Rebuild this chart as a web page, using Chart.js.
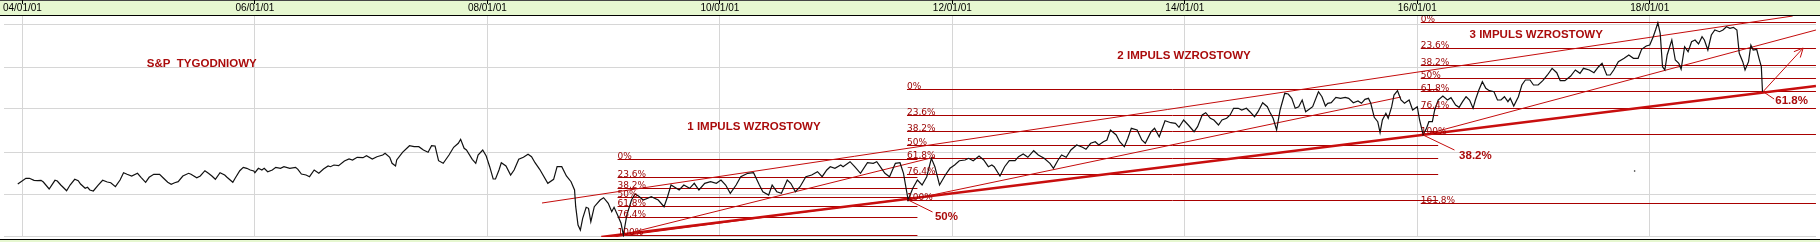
<!DOCTYPE html>
<html>
<head>
<meta charset="utf-8">
<style>
  html, body { margin: 0; padding: 0; background: #fff; }
  #wrap { width: 1820px; height: 242px; }
</style>
<script src="https://cdn.jsdelivr.net/npm/chart.js@4.4.1/dist/chart.umd.min.js"></script>
</head>
<body>
<div id="wrap"><canvas id="spChart" width="1820" height="242"></canvas></div>
<script>
// x axis: decimal years, y axis: index points (weekly S&P close)
const tickYears = [2004, 2006, 2008, 2010, 2012, 2014, 2016, 2018];
const tickLabels = ['04/01/01', '06/01/01', '08/01/01', '10/01/01', '12/01/01', '14/01/01', '16/01/01', '18/01/01'];
const gridValues = [640, 1060, 1480, 1910, 2330, 2750];

const weeks = [
  2003.96, 2004.03, 2004.06, 2004.10, 2004.13, 2004.16, 2004.18, 2004.23, 2004.28, 2004.30,
  2004.33, 2004.35, 2004.38, 2004.41, 2004.45, 2004.48, 2004.50, 2004.54, 2004.56, 2004.58,
  2004.61, 2004.65, 2004.69, 2004.73, 2004.76, 2004.80, 2004.84, 2004.87, 2004.90, 2004.94,
  2004.99, 2005.02, 2005.06, 2005.09, 2005.13, 2005.18, 2005.21, 2005.25, 2005.28, 2005.31,
  2005.34, 2005.38, 2005.43, 2005.45, 2005.50, 2005.53, 2005.57, 2005.60, 2005.63, 2005.66,
  2005.70, 2005.74, 2005.76, 2005.81, 2005.83, 2005.87, 2005.90, 2005.93, 2005.96, 2005.99,
  2006.00, 2006.03, 2006.06, 2006.08, 2006.11, 2006.15, 2006.18, 2006.22, 2006.25, 2006.30,
  2006.35, 2006.37, 2006.40, 2006.44, 2006.47, 2006.51, 2006.55, 2006.59, 2006.63, 2006.65,
  2006.68, 2006.72, 2006.77, 2006.81, 2006.84, 2006.88, 2006.93, 2006.96, 2007.01, 2007.05,
  2007.10, 2007.12, 2007.16, 2007.18, 2007.21, 2007.22, 2007.27, 2007.33, 2007.37, 2007.41,
  2007.45, 2007.49, 2007.52, 2007.55, 2007.58, 2007.62, 2007.67, 2007.71, 2007.75, 2007.77,
  2007.80, 2007.82, 2007.87, 2007.90, 2007.92, 2007.96, 2007.99, 2008.02, 2008.05, 2008.07,
  2008.10, 2008.12, 2008.16, 2008.20, 2008.23, 2008.27, 2008.31, 2008.35, 2008.38, 2008.41,
  2008.45, 2008.52, 2008.57, 2008.60, 2008.64, 2008.68, 2008.72, 2008.75, 2008.76, 2008.78,
  2008.80, 2008.82, 2008.85, 2008.87, 2008.89, 2008.92, 2008.97, 2009.00, 2009.04, 2009.07,
  2009.09, 2009.12, 2009.15, 2009.17, 2009.20, 2009.24, 2009.27, 2009.30, 2009.34, 2009.38,
  2009.41, 2009.47, 2009.52, 2009.55, 2009.58, 2009.65, 2009.69, 2009.74, 2009.78, 2009.82,
  2009.87, 2009.92, 2009.97, 2010.01, 2010.05, 2010.09, 2010.14, 2010.18, 2010.24, 2010.29,
  2010.34, 2010.37, 2010.42, 2010.45, 2010.49, 2010.53, 2010.58, 2010.61, 2010.65, 2010.69,
  2010.74, 2010.79, 2010.84, 2010.88, 2010.92, 2010.95, 2010.99, 2011.04, 2011.06, 2011.12,
  2011.16, 2011.21, 2011.27, 2011.32, 2011.35, 2011.38, 2011.42, 2011.46, 2011.51, 2011.55,
  2011.58, 2011.62, 2011.66, 2011.70, 2011.74, 2011.78, 2011.82, 2011.85, 2011.89, 2011.94,
  2011.98, 2012.02, 2012.06, 2012.11, 2012.14, 2012.18, 2012.23, 2012.27, 2012.31, 2012.34,
  2012.36, 2012.41, 2012.45, 2012.49, 2012.54, 2012.57, 2012.61, 2012.65, 2012.70, 2012.74,
  2012.79, 2012.84, 2012.87, 2012.91, 2012.94, 2012.98, 2013.02, 2013.07, 2013.12, 2013.15,
  2013.19, 2013.23, 2013.26, 2013.30, 2013.33, 2013.36, 2013.41, 2013.44, 2013.48, 2013.51,
  2013.54, 2013.59, 2013.63, 2013.66, 2013.71, 2013.74, 2013.78, 2013.83, 2013.88, 2013.92,
  2013.95, 2013.99, 2014.03, 2014.08, 2014.11, 2014.15, 2014.18, 2014.22, 2014.25, 2014.29,
  2014.32, 2014.36, 2014.39, 2014.42, 2014.46, 2014.49, 2014.53, 2014.56, 2014.60, 2014.63,
  2014.67, 2014.71, 2014.73, 2014.76, 2014.79, 2014.82, 2014.86, 2014.89, 2014.92, 2014.95,
  2014.98, 2015.01, 2015.04, 2015.07, 2015.10, 2015.15, 2015.18, 2015.21, 2015.23, 2015.26,
  2015.30, 2015.34, 2015.38, 2015.41, 2015.45, 2015.49, 2015.52, 2015.55, 2015.58, 2015.60,
  2015.63, 2015.66, 2015.68, 2015.70, 2015.73, 2015.75, 2015.78, 2015.80, 2015.83, 2015.86,
  2015.89, 2015.93, 2015.96, 2016.00, 2016.02, 2016.05, 2016.08, 2016.10, 2016.13, 2016.15,
  2016.18, 2016.22, 2016.26, 2016.29, 2016.33, 2016.36, 2016.39, 2016.42, 2016.45, 2016.48,
  2016.50, 2016.53, 2016.56, 2016.59, 2016.62, 2016.66, 2016.69, 2016.72, 2016.75, 2016.78,
  2016.80, 2016.83, 2016.87, 2016.90, 2016.93, 2016.97, 2017.00, 2017.04, 2017.08, 2017.12,
  2017.16, 2017.20, 2017.23, 2017.27, 2017.32, 2017.36, 2017.40, 2017.43, 2017.48, 2017.52,
  2017.56, 2017.59, 2017.63, 2017.66, 2017.69, 2017.73, 2017.78, 2017.82, 2017.86, 2017.90,
  2017.93, 2017.97, 2018.00, 2018.03, 2018.05, 2018.07, 2018.09, 2018.11, 2018.13, 2018.15,
  2018.19, 2018.22, 2018.25, 2018.27, 2018.30, 2018.33, 2018.36, 2018.39, 2018.42, 2018.45,
  2018.47, 2018.50, 2018.53, 2018.56, 2018.60, 2018.63, 2018.66, 2018.69, 2018.72, 2018.75,
  2018.77, 2018.80, 2018.82, 2018.85, 2018.87, 2018.89, 2018.92, 2018.94, 2018.96, 2018.97
];

const spx = [
  1160, 1217, 1217, 1197, 1193, 1197, 1180, 1110, 1197, 1190,
  1150, 1127, 1093, 1150, 1207, 1193, 1160, 1117, 1127, 1100,
  1090, 1147, 1197, 1180, 1173, 1133, 1200, 1273, 1257, 1240,
  1267, 1227, 1177, 1227, 1257, 1257, 1223, 1177, 1157, 1173,
  1183, 1240, 1267, 1257, 1223, 1240, 1293, 1267, 1240, 1207,
  1273, 1250, 1227, 1177, 1217, 1293, 1327, 1317, 1300, 1290,
  1273, 1317, 1300, 1317, 1283, 1300, 1327, 1317, 1333, 1317,
  1327, 1307, 1260, 1250, 1233, 1300, 1267, 1310, 1340, 1333,
  1350, 1343, 1390, 1410, 1400, 1427, 1423, 1443, 1410, 1433,
  1450, 1467, 1427, 1367, 1340, 1400, 1477, 1543, 1533, 1533,
  1500, 1477, 1543, 1540, 1393, 1367, 1450, 1527, 1567, 1607,
  1517, 1500, 1407, 1367, 1450, 1500, 1440, 1333, 1210, 1210,
  1300, 1373, 1340, 1250, 1300, 1407, 1427, 1457, 1433, 1373,
  1307, 1167, 1207, 1333, 1333, 1240, 1183, 1100, 933, 750,
  700, 817, 927, 917, 783, 933, 1000, 1023, 967, 883,
  927, 850, 767, 650, 850, 1000, 1060, 1040, 1000, 1017,
  1033, 1000, 933, 1033, 1150, 1100, 1150, 1117, 1167, 1100,
  1167, 1183, 1167, 1200, 1150, 1067, 1150, 1233, 1267, 1273,
  1150, 1083, 1050, 1150, 1083, 1067, 1200, 1167, 1083, 1133,
  1233, 1250, 1283, 1233, 1300, 1333, 1317, 1350, 1333, 1383,
  1333, 1267, 1373, 1367, 1383, 1333, 1267, 1233, 1367, 1373,
  1267, 1000, 1117, 1200, 1150, 1233, 1417, 1333, 1150, 1250,
  1317, 1350, 1393, 1400, 1417, 1393, 1440, 1400, 1333, 1350,
  1333, 1240, 1333, 1393, 1393, 1433, 1460, 1427, 1493, 1450,
  1417, 1367, 1317, 1400, 1450, 1427, 1500, 1550, 1527, 1507,
  1567, 1583, 1550, 1583, 1600, 1700, 1650, 1583, 1533, 1617,
  1717, 1700, 1600, 1567, 1683, 1717, 1633, 1793, 1773, 1767,
  1727, 1800, 1750, 1683, 1733, 1850, 1873, 1817, 1800, 1750,
  1800, 1817, 1850, 1917, 1917, 1900, 1917, 1883, 1833, 1883,
  1973, 1933, 1883, 1817, 1700, 1900, 2067, 2060, 2017, 1917,
  1933, 2000, 1883, 1907, 1933, 2083, 2033, 1940, 1967, 1973,
  2027, 2017, 2027, 2017, 1973, 1990, 1967, 2007, 2017, 1967,
  1827, 1783, 1673, 1800, 1867, 1817, 1933, 2050, 2093, 2000,
  1967, 2000, 1900, 1933, 1800, 1655, 1717, 1783, 1783, 1900,
  2000, 2040, 2000, 2023, 1950, 1927, 1983, 2033, 2000, 1917,
  2000, 2100, 2183, 2117, 2093, 2083, 2000, 2000, 2033, 1983,
  2017, 1940, 2033, 2150, 2200, 2200, 2150, 2150, 2193, 2250,
  2317, 2273, 2193, 2193, 2240, 2300, 2267, 2317, 2300, 2273,
  2333, 2367, 2250, 2250, 2300, 2383, 2417, 2450, 2417, 2417,
  2507, 2540, 2550, 2633, 2700, 2773, 2667, 2333, 2300, 2450,
  2600, 2400, 2367, 2307, 2533, 2483, 2583, 2600, 2560, 2633,
  2600, 2500, 2650, 2700, 2683, 2700, 2733, 2717, 2727, 2700,
  2467, 2383, 2300, 2383, 2550, 2500, 2507, 2417, 2333, 2083
];

// Fibonacci retracements of the three impulses
const fibLabels = ['0%', '23,6%', '38,2%', '50%', '61,8%', '76,4%', '100%'];
const fib1Values = [1405, 1225, 1115, 1025, 935, 825, 645];
const fib1Span = [2009.12, 2011.70];
const fib2Values = [2105, 1845, 1685, 1545, 1415, 1255, 995];
const fib2Span = [2011.61, 2016.18];
const fib3Labels = ['0%', '23,6%', '38,2%', '50%', '61,8%', '76,4%', '100%', '161,8%'];
const fib3Values = [2775, 2515, 2345, 2215, 2085, 1915, 1655, 965];
const fib3Span = [2016.03, 2019.43];

// trend lines, [year, value] end points
const channelTop = [[2008.47, 970], [2019.23, 2840]];
const supportLine = [[2008.98, 630], [2019.43, 2140]];
const supportLow = [[2008.95, 610], [2011.65, 1020]];
const impulse1Line = [[2009.15, 650], [2011.85, 1430]];
const impulse2Line = [[2011.62, 1000], [2015.86, 2030]];
const impulse3Line = [[2016.05, 1650], [2019.43, 2700]];
const reboundArrow = [[2018.98, 2090], [2019.32, 2520]];
const pointer50 = [[2011.62, 1000], [2011.83, 880]];
const pointer382 = [[2016.05, 1650], [2016.32, 1500]];
const pointer618 = [[2018.98, 2080], [2019.07, 2010]];
const strayDot = [[2017.87, 1290]];

const titleTexts = ['S&P  TYGODNIOWY', '1 IMPULS WZROSTOWY', '2 IMPULS WZROSTOWY', '3 IMPULS WZROSTOWY'];
const titleAnchors = [[2005.07, 2360], [2009.72, 1730], [2013.42, 2440], [2016.45, 2650]];
const retraceTexts = ['50%', '38.2%', '61.8%'];
const retraceAnchors = [[2011.85, 830], [2016.36, 1440], [2019.08, 1990]];

const FIB_RED = '#a80000';
const LINE_RED = '#c40c0c';

const seg = (pts, color, width) => ({
    type: 'line',
    data: pts.map(([x, y]) => ({x, y})),
    borderColor: color,
    borderWidth: width,
    pointRadius: 0,
    tension: 0,
    fill: false,
});

const fibGroups = [[fib1Values, fibLabels, fib1Span], [fib2Values, fibLabels, fib2Span], [fib3Values, fib3Labels, fib3Span]];
const fibSets = [];
fibGroups.forEach(([vals, , span]) => {
    vals.forEach(v => fibSets.push(seg([[span[0], v], [span[1], v]], FIB_RED, 1)));
});

const overlay = {
    id: 'overlay',
    beforeDraw(chart) {
        const {ctx, width, height, chartArea: area} = chart;
        ctx.save();
        ctx.fillStyle = '#e6f7d0';
        ctx.fillRect(0, 0, width, area.top);
        ctx.fillRect(0, area.bottom + 3, width, height - area.bottom - 3);
        ctx.fillStyle = '#000';
        ctx.fillRect(0, area.top - 1, width, 1);
        ctx.fillRect(0, area.bottom + 2, width, 1);
        ctx.fillStyle = '#444';
        ctx.fillRect(0, 0, width, 1);
        const xs = chart.scales.x;
        ctx.fillStyle = '#000';
        tickYears.forEach(t => ctx.fillRect(Math.floor(xs.getPixelForValue(t)), 0, 1, 4));
        ctx.restore();
    },
    afterDatasetsDraw(chart) {
        const {ctx, chartArea: area, scales: {x, y}} = chart;
        ctx.save();
        ctx.beginPath();
        ctx.rect(area.left, area.top, area.right - area.left, area.bottom - area.top);
        ctx.clip();

        // level labels
        ctx.font = '9px "DejaVu Sans"';
        ctx.fillStyle = '#990000';
        ctx.textAlign = 'left';
        ctx.textBaseline = 'alphabetic';
        fibGroups.forEach(([vals, labels, span]) => {
            vals.forEach((v, i) => ctx.fillText(labels[i], x.getPixelForValue(span[0]), y.getPixelForValue(v) - 1));
        });

        // titles and retracement marks
        ctx.font = 'bold 11.5px "Liberation Sans", Arial, sans-serif';
        ctx.fillStyle = '#aa0c0c';
        ctx.textBaseline = 'middle';
        titleTexts.forEach((t, i) => ctx.fillText(t, x.getPixelForValue(titleAnchors[i][0]), y.getPixelForValue(titleAnchors[i][1])));
        retraceTexts.forEach((t, i) => ctx.fillText(t, x.getPixelForValue(retraceAnchors[i][0]), y.getPixelForValue(retraceAnchors[i][1])));

        // arrow head
        const [a, b] = reboundArrow;
        const x0 = x.getPixelForValue(a[0]), y0 = y.getPixelForValue(a[1]);
        const x1 = x.getPixelForValue(b[0]), y1 = y.getPixelForValue(b[1]);
        const ang = Math.atan2(y1 - y0, x1 - x0);
        ctx.strokeStyle = LINE_RED;
        ctx.lineWidth = 1;
        ctx.beginPath();
        ctx.moveTo(x1 - 10 * Math.cos(ang - 0.45), y1 - 10 * Math.sin(ang - 0.45));
        ctx.lineTo(x1, y1);
        ctx.lineTo(x1 - 10 * Math.cos(ang + 0.45), y1 - 10 * Math.sin(ang + 0.45));
        ctx.stroke();
        ctx.restore();
    }
};

const ctx = document.getElementById('spChart').getContext('2d');
new Chart(ctx, {
    type: 'line',
    data: {
        datasets: [
            {
                label: 'S&P',
                data: weeks.map((w, i) => ({x: w, y: spx[i]})),
                borderColor: '#111',
                borderWidth: 1.2,
                pointRadius: 0,
                tension: 0,
                fill: false,
            },
            seg(supportLine, '#c80e0e', 2.5),
            seg(supportLow, LINE_RED, 1),
            seg(channelTop, LINE_RED, 1),
            seg(impulse1Line, LINE_RED, 1),
            seg(impulse2Line, LINE_RED, 1),
            seg(impulse3Line, LINE_RED, 1),
            seg(reboundArrow, LINE_RED, 1),
            seg(pointer50, LINE_RED, 1),
            seg(pointer382, LINE_RED, 1),
            seg(pointer618, LINE_RED, 1),
            {
                type: 'scatter',
                data: strayDot.map(([x, y]) => ({x, y})),
                pointRadius: 0.8,
                pointBackgroundColor: '#222',
                pointBorderWidth: 0,
            },
            ...fibSets,
        ]
    },
    options: {
        responsive: false,
        animation: false,
        events: [],
        devicePixelRatio: 1,
        layout: { padding: { top: 0, left: 0, right: 0, bottom: 5 } },
        plugins: {
            legend: { display: false },
            tooltip: { enabled: false },
        },
        scales: {
            x: {
                type: 'linear',
                position: 'top',
                min: 2003.8415,
                max: 2019.4304,
                afterBuildTicks: axis => { axis.ticks = tickYears.map(v => ({value: v})); },
                afterFit: axis => { axis.height = 16; },
                ticks: {
                    autoSkip: false,
                    maxRotation: 0,
                    padding: 2,
                    color: '#000',
                    font: { family: '"Liberation Sans", Arial, sans-serif', size: 10 },
                    callback: (value, index) => tickLabels[index],
                },
                grid: { color: '#d6d6d6', lineWidth: 1, drawTicks: false },
                border: { display: false },
            },
            y: {
                type: 'linear',
                position: 'left',
                min: 630,
                max: 2840,
                afterBuildTicks: axis => { axis.ticks = gridValues.map(v => ({value: v})); },
                afterFit: axis => { axis.width = 0; },
                ticks: { display: false },
                grid: { color: '#d6d6d6', lineWidth: 1, drawTicks: false },
                border: { display: false },
            }
        }
    },
    plugins: [overlay]
});
</script>
</body>
</html>
